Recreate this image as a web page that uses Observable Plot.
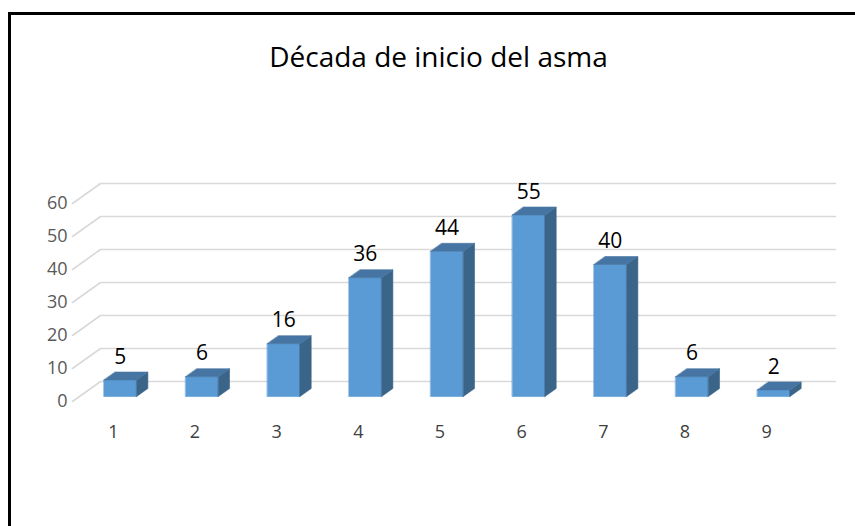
<!DOCTYPE html>
<html>
<head>
<meta charset="utf-8">
<script src="https://cdn.jsdelivr.net/npm/d3@7"></script>
<script src="https://cdn.jsdelivr.net/npm/@observablehq/plot@0.6"></script>
<style>
  html, body { margin: 0; padding: 0; background: #fff; }
  #wrap { position: relative; width: 855px; height: 526px; overflow: hidden; background: #fff; }
  #frame { position: absolute; left: 8px; top: 12px; width: 900px; height: 600px;
           border-left: 3px solid #000; border-top: 3px solid #000; z-index: 5; pointer-events: none; }
  #title { position: absolute; left: 0; top: 0; width: 855px; height: 100px;
           font-family: "Open Sans", sans-serif; font-size: 28px; color: #000;
           text-align: center; line-height: 1; }
  #title span { position: absolute; left: 0; right: 0; top: 42px; padding-left: 22px; }
  #chart { position: absolute; left: 0; top: 100px; }
  #chart svg { background: transparent !important; }
</style>
</head>
<body>
<div id="wrap">
  <div id="title"><span id="titleText"></span></div>
  <div id="chart"></div>
  <div id="frame"></div>
</div>
<script>
// ---- data ----
const titleText = "Década de inicio del asma";
const categories = [1, 2, 3, 4, 5, 6, 7, 8, 9];
const values = [5, 6, 16, 36, 44, 55, 40, 6, 2];
const yTicks = [0, 10, 20, 30, 40, 50, 60];

document.getElementById("titleText").textContent = titleText;

// ---- layout (style) ----
const W = 855, H = 426;
const mL = 72, mR = 48, mT = 103, mB = 125;
const xDom = [0.5, 9.5], yDom = [0, 60];
const pxPerX = (W - mL - mR) / (xDom[1] - xDom[0]);
const pxPerY = (H - mT - mB) / (yDom[1] - yDom[0]);
// oblique projection of depth d (0 = front, 1 = back wall)
const depthPx = [28, 20];
const kx = depthPx[0] / pxPerX, ky = depthPx[1] / pxPerY;
const P = (x, y, d) => ({x: x + d * kx, y: y + d * ky});
const half = 0.2, dF = 0.25, dB = 0.65;

// gridlines on floor-front stub + back wall
const grid = [];
for (const t of yTicks) {
  grid.push({k: t, ...P(xDom[0], t, 0)});
  grid.push({k: t, ...P(xDom[0], t, 1)});
  grid.push({k: t, ...P(xDom[1], t, 1)});
}

const rows = categories.map((c, i) => ({c, v: values[i]}));
const frontFaces = [], sideFaces = [], topFaces = [];
rows.forEach(({c, v}) => {
  const xl = c - half, xr = c + half;
  frontFaces.push({k: c, ...P(xl, 0, dF)}, {k: c, ...P(xr, 0, dF)}, {k: c, ...P(xr, v, dF)}, {k: c, ...P(xl, v, dF)});
  sideFaces.push({k: c, ...P(xr, 0, dF)}, {k: c, ...P(xr, 0, dB)}, {k: c, ...P(xr, v, dB)}, {k: c, ...P(xr, v, dF)});
  topFaces.push({k: c, ...P(xl, v, dF)}, {k: c, ...P(xr, v, dF)}, {k: c, ...P(xr, v, dB)}, {k: c, ...P(xl, v, dB)});
});
const valueLabels = rows.map(({c, v}) => ({text: String(v), ...P(c, v, dF)}));

const poly = (data, color) => Plot.line(data, {x: "x", y: "y", z: "k", fill: color, stroke: color, strokeWidth: 0.6, curve: "linear-closed"});

const chart = Plot.plot({
  width: W, height: H,
  marginLeft: mL, marginRight: mR, marginTop: mT, marginBottom: mB,
  style: {fontFamily: "Open Sans, sans-serif", background: "transparent", overflow: "visible"},
  x: {type: "linear", domain: xDom},
  y: {type: "linear", domain: yDom},
  marks: [
    Plot.line(grid, {x: "x", y: "y", z: "k", stroke: "#d9d9d9", strokeWidth: 1.6}),
    poly(frontFaces, "#5b9bd5"),
    poly(sideFaces, "#3b6489"),
    poly(topFaces, "#4675a3"),
    Plot.axisY({ticks: yTicks, tickSize: 0, tickPadding: 5, fontSize: 18, color: "#595959", label: null, tickFormat: d => String(d)}),
    Plot.axisX({ticks: categories, tickSize: 0, tickPadding: 24, fontSize: 18, color: "#404040", label: null, tickFormat: d => String(d)}),
    Plot.text(valueLabels, {x: "x", y: "y", text: "text", dy: -23, fontSize: 21, fill: "#000"})
  ]
});
document.getElementById("chart").appendChild(chart);
</script>
</body>
</html>
